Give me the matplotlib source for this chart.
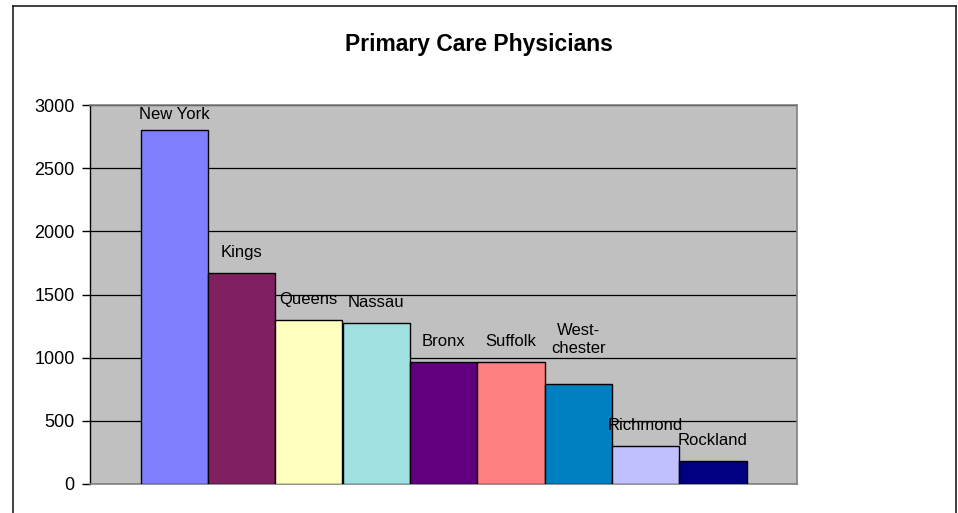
import matplotlib
matplotlib.use("Agg")
import matplotlib.pyplot as plt
from matplotlib.lines import Line2D

counties = ["New York", "Kings", "Queens", "Nassau", "Bronx", "Suffolk",
            "West-\nchester", "Richmond", "Rockland"]
physicians = [2800, 1670, 1300, 1275, 968, 965, 795, 302, 182]
bar_colors = ["#8080FF", "#802060", "#FFFFC0", "#A0E0E0", "#600080",
              "#FF8080", "#0080C0", "#C0C0FF", "#000080"]
y_ticks = [0, 500, 1000, 1500, 2000, 2500, 3000]
title = "Primary Care Physicians"

plt.rcParams["font.family"] = ["Liberation Sans", "DejaVu Sans"]

fig = plt.figure(figsize=(9.58, 5.13), dpi=100)
ax = fig.add_axes([90 / 958, 1 - 484 / 513, (797 - 90) / 958, (484 - 105) / 513])
ax.set_facecolor("#C0C0C0")

x = list(range(len(counties)))
ax.bar(x, physicians, width=1.0, color=bar_colors, edgecolor="black",
       linewidth=1.0, zorder=3)

ax.set_xlim(-1.25, len(counties) - 1 + 1.25)
ax.set_ylim(0, 3000)
ax.set_yticks(y_ticks)
ax.set_yticklabels([str(v) for v in y_ticks], fontsize=13)
ax.set_xticks([])
ax.yaxis.grid(True, color="black", linewidth=0.9, zorder=0)
ax.set_axisbelow(True)
ax.tick_params(axis="y", direction="out", length=6, width=1, pad=5, colors="black")

for side in ["top", "right", "bottom"]:
    ax.spines[side].set_color("#808080")
    ax.spines[side].set_linewidth(1.2)
ax.spines["left"].set_color("black")
ax.spines["left"].set_linewidth(1.0)

for i, (name, val) in enumerate(zip(counties, physicians)):
    off = 16
    if i == 0:
        off = 11
    if "\n" in name:
        off = 31
    ax.annotate(name, (i, val), xytext=(0, off * 0.72), textcoords="offset points",
                ha="center", va="baseline", fontsize=12, zorder=5,
                linespacing=1.2)

fig.text(0.5, 1 - 44 / 513, title, ha="center", va="center",
         fontsize=16.5, fontweight="bold")

# chart border
lc = "#202020"
fig.add_artist(Line2D([13 / 958, 13 / 958], [0, 1 - 6 / 513], transform=fig.transFigure,
                      color=lc, linewidth=1.2))
fig.add_artist(Line2D([956 / 958, 956 / 958], [0, 1 - 6 / 513], transform=fig.transFigure,
                      color=lc, linewidth=1.2))
fig.add_artist(Line2D([13 / 958, 956 / 958], [1 - 6 / 513, 1 - 6 / 513],
                      transform=fig.transFigure, color=lc, linewidth=1.2))

fig.savefig("out.png", dpi=100)
